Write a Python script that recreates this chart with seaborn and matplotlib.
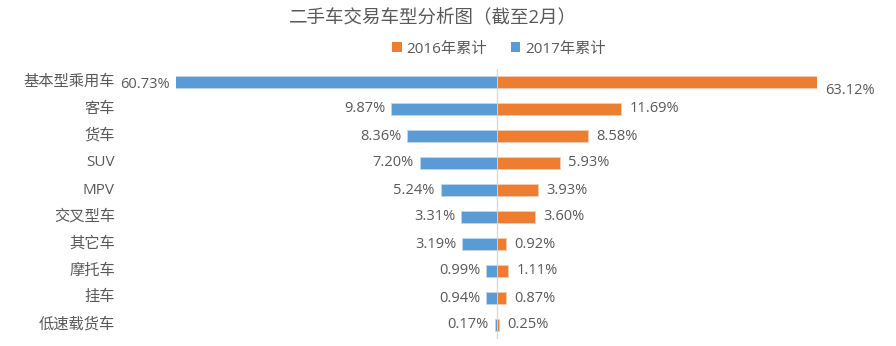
import numpy as np
import pandas as pd
import matplotlib
matplotlib.use("Agg")
import matplotlib.pyplot as plt
import matplotlib.transforms as mtrans
import seaborn as sns
from matplotlib.patches import Patch

categories = ["基本型乘用车", "客车", "货车", "SUV", "MPV", "交叉型车", "其它车", "摩托车", "挂车", "低速载货车"]
v2017 = [60.73, 9.87, 8.36, 7.20, 5.24, 3.31, 3.19, 0.99, 0.94, 0.17]
v2016 = [63.12, 11.69, 8.58, 5.93, 3.93, 3.60, 0.92, 1.11, 0.87, 0.25]
title = "二手车交易车型分析图（截至2月）"
legend_labels = ["2016年累计", "2017年累计"]

sns.set_theme(style="white")
plt.rcParams['font.family'] = ['Open Sans', 'Noto Sans CJK SC', 'DejaVu Sans']

BLUE = "#5B9BD5"
ORANGE = "#ED7D31"
TXT = "#595959"
LIM = 30

df = pd.DataFrame({"cat": categories, "y2017": v2017, "y2016": v2016})
df["neg2017"] = -df["y2017"]

fig = plt.figure(figsize=(8.96, 3.46), dpi=100)
ax = fig.add_axes([176/896, 1-338.5/346, (817-176)/896, (338.5-68.5)/346])

sns.barplot(data=df, x="neg2017", y="cat", color=BLUE, width=0.48, ax=ax,
            edgecolor="#BDD7EE", linewidth=0.6, saturation=1)
sns.barplot(data=df, x="y2016", y="cat", color=ORANGE, width=0.48, ax=ax,
            edgecolor="#F8CBAD", linewidth=0.6, saturation=1)

ax.set_xlim(-LIM, LIM)
ax.set_ylim(9.5, -0.5)
ax.set_xlabel("")
ax.set_ylabel("")
ax.set_xticks([])
ax.set_yticks([])
for s in ax.spines.values():
    s.set_visible(False)
ax.axvline(0, color="#D9D9D9", lw=1, zorder=0.5)

for i, (a, b) in enumerate(zip(v2017, v2016)):
    xa = -min(a, LIM) - 0.55
    xb = min(b, LIM) + 0.75
    ya = i + (0.08 if a > LIM else 0)
    yb = i + (0.3 if b > LIM else 0)
    ax.text(xa, ya, f"{a:.2f}%", ha="right", va="center", fontsize=10.5, color=TXT)
    ax.text(xb, yb, f"{b:.2f}%", ha="left", va="center", fontsize=10.5, color=TXT)

trans = mtrans.blended_transform_factory(fig.transFigure, ax.transData)
for i, c in enumerate(categories):
    ax.text(115/896, i, c, transform=trans, fontsize=11, color=TXT,
            ha="right", va="center", clip_on=False)

fig.text(433/896, 1-17/346, title, ha="center", va="center", fontsize=13.3, color=TXT)

handles = [Patch(facecolor=ORANGE, edgecolor="none"), Patch(facecolor=BLUE, edgecolor="none")]
fig.legend(handles, legend_labels, loc="center", bbox_to_anchor=(499/896, 1-49/346),
           ncol=2, frameon=False, fontsize=11, handlelength=0.6, handleheight=0.6,
           handletextpad=0.3, columnspacing=1.6, labelcolor=TXT)

fig.savefig("out.png", dpi=100)
